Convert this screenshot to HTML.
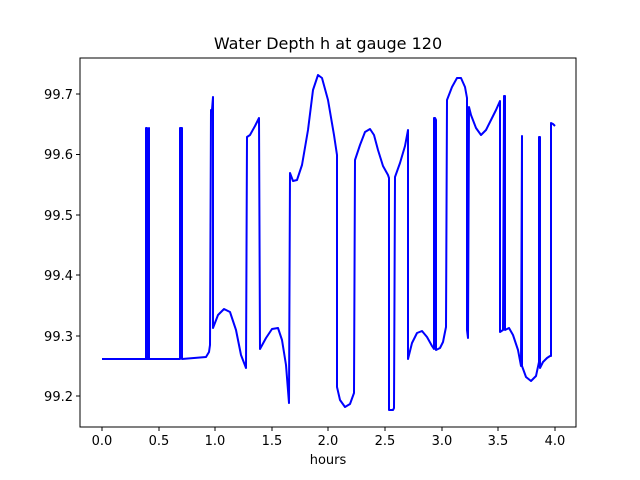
<!DOCTYPE html>
<html><head><style>body{margin:0;background:#fff}svg{display:block}text{font-family:"DejaVu Sans","Liberation Sans",sans-serif;fill:#000}</style></head>
<body>
<svg width="640" height="480" viewBox="0 0 640 480">
<rect x="0" y="0" width="640" height="480" fill="#fff"/>
<polyline fill="none" stroke="#0000ff" stroke-width="2" stroke-linejoin="round" points="102,359 146,359 146,128 147,128 147,359 149,359 149,128 149,359 180,359 180,128 182,128 182,359 206,357 209,352 210,345 211,110 212,110 213,97 213,328 218,315 224,309 230,312 236,330 241,355 246,368 247,137 250,135 255,126 259,118 260,349 266,338 272,329 278,328 282,340 286,365 289,403 290,173 293,181 297,180 302,165 308,130 313,90 318,75 322,78 328,100 334,135 337,155 337,387 340,400 345,407 350,404 354,393 355,160 360,145 365,132 370,129 374,135 378,150 383,166 388,175 389,178 389,410 393,410 394,408 395,177 400,163 405,146 408,130 408,359 412,343 417,333 422,331 427,337 432,346 434,349 434,118 435,118 436,120 436,350 440,348 443,342 446,327 447,100 452,87 457,78 461,78 465,87 467,98 467,330 468,338 469,107 471,115 476,128 481,135 486,130 491,120 496,110 500,101 500,332 503,330 504,96 505,96 505,330 509,328 513,335 518,350 521,366 522,136 522,366 526,377 531,381 536,376 539,362 539,137 540,137 540,368 543,362 547,358 550,356 551,356 551,123 553,124 555,126"/>
<rect x="80" y="58" width="496" height="369" fill="none" stroke="#000" stroke-width="1"/>
<g stroke="#000" stroke-width="1">
<line x1="102" y1="427" x2="102" y2="431"/><line x1="159" y1="427" x2="159" y2="431"/><line x1="215" y1="427" x2="215" y2="431"/><line x1="272" y1="427" x2="272" y2="431"/><line x1="328" y1="427" x2="328" y2="431"/><line x1="385" y1="427" x2="385" y2="431"/><line x1="442" y1="427" x2="442" y2="431"/><line x1="498" y1="427" x2="498" y2="431"/><line x1="555" y1="427" x2="555" y2="431"/>
<line x1="76" y1="94" x2="80" y2="94"/><line x1="76" y1="154.5" x2="80" y2="154.5"/><line x1="76" y1="215" x2="80" y2="215"/><line x1="76" y1="275" x2="80" y2="275"/><line x1="76" y1="336" x2="80" y2="336"/><line x1="76" y1="396" x2="80" y2="396"/>
</g>
<g font-size="13" text-anchor="middle">
<text x="102" y="445">0.0</text><text x="159" y="445">0.5</text><text x="215" y="445">1.0</text><text x="272" y="445">1.5</text><text x="328" y="445">2.0</text><text x="385" y="445">2.5</text><text x="442" y="445">3.0</text><text x="498" y="445">3.5</text><text x="555" y="445">4.0</text>
<text x="328" y="464">hours</text>
</g>
<g font-size="13" text-anchor="end">
<text x="73" y="99">99.7</text><text x="73" y="159">99.6</text><text x="73" y="220">99.5</text><text x="73" y="280">99.4</text><text x="73" y="341">99.3</text><text x="73" y="401">99.2</text>
</g>
<text x="328" y="49" font-size="16" text-anchor="middle">Water Depth h at gauge 120</text>
</svg>
</body></html>
